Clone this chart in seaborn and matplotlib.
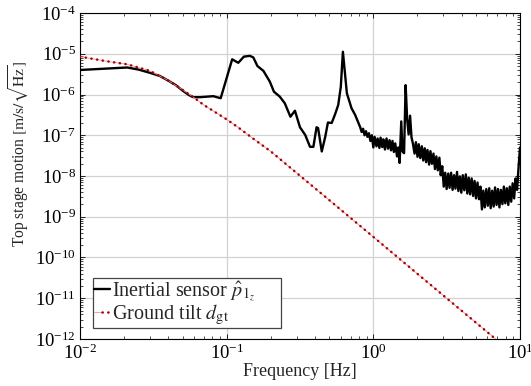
import numpy as np
import pandas as pd
import matplotlib
matplotlib.use("Agg")
import matplotlib.pyplot as plt
from matplotlib.ticker import LogLocator, NullFormatter
from matplotlib.legend_handler import HandlerTuple
import seaborn as sns

# Inertial sensor amplitude spectral density, smooth part below 0.8 Hz [m/s/sqrt(Hz)]
sensor_freq_low = [0.0100, 0.0210, 0.0250, 0.0300, 0.0350, 0.0390, 0.0450, 0.0500,
                   0.0550, 0.0590, 0.0660, 0.0810, 0.0910, 0.109, 0.120, 0.131,
                   0.144, 0.152, 0.162, 0.178, 0.197, 0.210, 0.230, 0.249,
                   0.272, 0.292, 0.316, 0.343, 0.370, 0.390, 0.410, 0.420,
                   0.445, 0.470, 0.490, 0.520, 0.547, 0.576, 0.600, 0.620,
                   0.637, 0.660, 0.710, 0.750]
sensor_asd_low = [4.0e-6, 4.6e-6, 4.1e-6, 3.4e-6, 2.85e-6, 2.3e-6, 1.7e-6, 1.25e-6,
                  9.8e-7, 8.6e-7, 8.6e-7, 9.1e-7, 8.1e-7, 7.3e-6, 6.0e-6, 8.5e-6,
                  8.9e-6, 8.1e-6, 5.0e-6, 3.8e-6, 2.06e-6, 1.17e-6, 8.9e-7, 6.1e-7,
                  2.85e-7, 4.0e-7, 1.57e-7, 1.02e-7, 5.2e-8, 5.2e-8, 1.57e-7, 1.5e-7,
                  4.0e-8, 9.2e-8, 2.05e-7, 2.0e-7, 3.2e-7, 5.5e-7, 1.55e-6, 1.12e-5,
                  4.0e-6, 1.07e-6, 4.6e-7, 3.2e-7]

# Inertial sensor above 0.8 Hz (noisy band), log10 of the amplitude
sensor_freq_high = [0.813, 0.832, 0.851, 0.871, 0.891, 0.912, 0.933, 0.955, 0.977, 1.00,
                    1.02, 1.05, 1.07, 1.10, 1.12, 1.15, 1.17, 1.20, 1.23, 1.26,
                    1.29, 1.32, 1.35, 1.38, 1.41, 1.45, 1.48, 1.51, 1.55, 1.58,
                    1.62, 1.66, 1.70, 1.74, 1.78, 1.82, 1.86, 1.91, 1.95, 2.00,
                    2.04, 2.09, 2.14, 2.19, 2.24, 2.29, 2.34, 2.40, 2.45, 2.51,
                    2.57, 2.63, 2.69, 2.75, 2.82, 2.88, 2.95, 3.02, 3.09, 3.16,
                    3.24, 3.31, 3.39, 3.47, 3.55, 3.63, 3.72, 3.80, 3.89, 3.98,
                    4.07, 4.17, 4.27, 4.37, 4.47, 4.57, 4.68, 4.79, 4.90, 5.01,
                    5.13, 5.25, 5.37, 5.50, 5.62, 5.75, 5.89, 6.03, 6.17, 6.31,
                    6.46, 6.61, 6.76, 6.92, 7.08, 7.24, 7.41, 7.59, 7.76, 7.94,
                    8.13, 8.32, 8.51, 8.71, 8.91, 9.12, 9.33, 9.55, 9.77, 10.0]
sensor_log_asd_high = [-6.80, -6.92, -6.84, -7.00, -6.90, -7.04, -6.95, -7.14, -7.00, -7.30,
                       -7.04, -7.27, -7.08, -7.31, -7.06, -7.29, -7.10, -7.35, -7.08, -7.33,
                       -7.12, -7.37, -7.14, -7.41, -7.20, -7.52, -7.30, -7.68, -6.66, -7.40,
                       -7.44, -5.77, -6.60, -6.98, -6.52, -7.05, -7.20, -7.45, -7.17, -7.53,
                       -7.22, -7.56, -7.27, -7.62, -7.32, -7.66, -7.36, -7.72, -7.39, -7.70,
                       -7.45, -7.83, -7.52, -7.86, -7.55, -7.98, -7.76, -8.26, -7.92, -8.32,
                       -7.94, -8.29, -7.92, -8.34, -7.98, -8.31, -7.90, -8.37, -8.01, -8.41,
                       -7.98, -8.35, -7.96, -8.43, -8.04, -8.45, -8.06, -8.49, -8.12, -8.55,
                       -8.16, -8.57, -8.26, -8.82, -8.36, -8.77, -8.32, -8.73, -8.30, -8.79,
                       -8.36, -8.75, -8.28, -8.71, -8.32, -8.77, -8.34, -8.69, -8.26, -8.67,
                       -8.30, -8.71, -8.26, -8.63, -8.18, -8.55, -8.06, -8.34, -7.80, -7.30]

# Ground tilt contribution
tilt_freq = [0.010, 0.015, 0.021, 0.025, 0.030, 0.040, 0.050, 0.059, 0.070,
             0.100, 0.120, 0.150, 0.200, 0.480, 1.00, 3.16, 6.60, 10.0]
tilt_asd = [8.5e-6, 6.6e-6, 5.5e-6, 4.6e-6, 3.8e-6, 2.2e-6, 1.3e-6, 8.7e-7, 5.5e-7,
            2.45e-7, 1.55e-7, 8.5e-8, 4.0e-8, 2.9e-9, 3.2e-10, 1.0e-11, 1.1e-12, 3.2e-13]

sensor = pd.DataFrame({
    "freq": sensor_freq_low + sensor_freq_high,
    "asd": sensor_asd_low + [10.0 ** v for v in sensor_log_asd_high],
})
tilt = pd.DataFrame({"freq": tilt_freq, "asd": tilt_asd})

sns.set_style("ticks")
plt.rcParams.update({
    "font.family": ["Liberation Serif", "DejaVu Serif"],
    "mathtext.fontset": "stix",
    "axes.linewidth": 0.8,
    "axes.edgecolor": "black",
})

fig, ax = plt.subplots(figsize=(5.31, 3.86), dpi=100)
fig.subplots_adjust(left=0.1507, right=0.9793, bottom=0.1218, top=0.9663)
ax.set_xscale("log")
ax.set_yscale("log")

sns.lineplot(data=sensor, x="freq", y="asd", ax=ax, color="black", lw=1.7,
             estimator=None, sort=False, zorder=3)
sns.lineplot(data=tilt, x="freq", y="asd", ax=ax, color="#e89a9a", lw=0.6,
             estimator=None, sort=False, zorder=4)
sns.lineplot(data=tilt, x="freq", y="asd", ax=ax, color="#a80000", lw=1.8,
             linestyle=(0, (0.1, 2.2)), dash_capstyle="round",
             estimator=None, sort=False, zorder=5)

ax.set_xlim(1e-2, 1e1)
ax.set_ylim(1e-12, 1e-4)
ax.yaxis.set_major_locator(LogLocator(base=10, numticks=20))
ax.yaxis.set_minor_locator(LogLocator(base=10, subs=np.arange(2, 10), numticks=20))
ax.yaxis.set_minor_formatter(NullFormatter())
ax.xaxis.set_minor_formatter(NullFormatter())

ax.grid(True, which="major", color="#d2d2d2", lw=0.9)
ax.set_axisbelow(True)
ax.tick_params(which="both", direction="in", top=True, right=True, colors="black")
ax.tick_params(which="major", length=3.5, width=0.6, labelsize=13.5, pad=3)
ax.tick_params(which="minor", length=2.0, width=0.5)

ax.set_xlabel("Frequency [Hz]", fontsize=13, labelpad=0)
ax.set_ylabel(r"Top stage motion $[\mathrm{m/s/\sqrt{Hz}}]$", fontsize=11.2)
ax.yaxis.set_label_coords(-0.112, 0.569)

lines = ax.get_lines()
handles = [lines[0], (lines[1], lines[2])]
labels = [r"Inertial sensor $\hat{p}_{1_z}$", r"Ground tilt $d_{\mathrm{gt}}$"]
leg = ax.legend(handles, labels, loc="lower left",
                bbox_to_anchor=(0.029, 0.033, 0.427, 0.0), mode="expand",
                borderaxespad=0, fontsize=14.5, handlelength=0.8, handletextpad=0.12,
                borderpad=0.05, labelspacing=-0.05, fancybox=False, framealpha=1,
                edgecolor="#444444", handler_map={tuple: HandlerTuple(ndivide=None, pad=0)})
leg.get_frame().set_linewidth(0.9)

fig.savefig("out.png", dpi=100, facecolor="white")
